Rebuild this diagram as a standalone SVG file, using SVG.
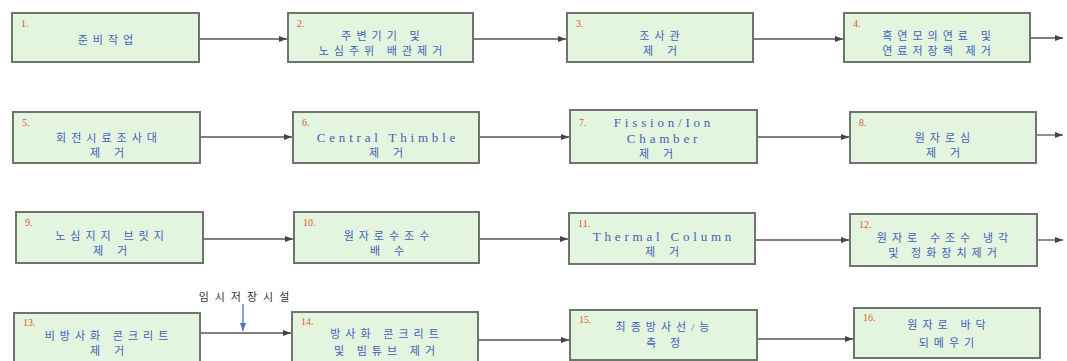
<svg xmlns="http://www.w3.org/2000/svg" width="1067" height="361" viewBox="0 0 1067 361">
<style>
.box{fill:#e3f5df;stroke:#6f746f;stroke-width:2}
.num{font-family:"Liberation Serif","Noto Sans CJK KR",serif;font-size:10px;fill:#e4572c}
.t{font-family:"Liberation Serif","Noto Sans CJK KR",serif;font-size:11px;fill:#3f62b8;text-anchor:middle;letter-spacing:5px}
.e{font-family:"Liberation Serif",serif;font-size:13px;fill:#3f62b8;text-anchor:middle;letter-spacing:3.8px}
.w{letter-spacing:14px}
.c{stroke:#555;stroke-width:1.3;fill:none;marker-end:url(#ah)}
.lbl{font-family:"Liberation Serif","Noto Sans CJK KR",serif;font-size:11px;fill:#333;text-anchor:middle;letter-spacing:6px}
</style>
<defs>
<marker id="ah" viewBox="0 0 8 6" refX="8" refY="3" markerWidth="8" markerHeight="6" markerUnits="userSpaceOnUse" orient="auto">
<path d="M0,0L8,3L0,6z" fill="#444"/>
</marker>
<marker id="ahb" viewBox="0 0 8 6" refX="8" refY="3" markerWidth="8" markerHeight="6" markerUnits="userSpaceOnUse" orient="auto">
<path d="M0,0L8,3L0,6z" fill="#4a6fd0"/>
</marker>
</defs>
<rect width="1067" height="361" fill="#ffffff"/>
<g id="connectors">
<path class="c" d="M199,39H287"/>
<path class="c" d="M473,39H566"/>
<path class="c" d="M753,39H843"/>
<path class="c" d="M1030,38H1063"/>
<path class="c" d="M200,137H292"/>
<path class="c" d="M479,137H569"/>
<path class="c" d="M757,137H849"/>
<path class="c" d="M1036,135H1063"/>
<path class="c" d="M203,239H293"/>
<path class="c" d="M479,239H568"/>
<path class="c" d="M755,240H849"/>
<path class="c" d="M1037,240H1063"/>
<path class="c" d="M200,333H291"/>
<path class="c" d="M478,340H569"/>
<path class="c" d="M757,339H853"/>
<path d="M243,304V331" stroke="#4a6fd0" stroke-width="1.3" fill="none" marker-end="url(#ahb)"/>
<text class="lbl" x="247" y="301">임시저장시설</text>
</g>
<g id="n1"><rect class="box" x="12" y="13" width="187" height="49"/><text class="num" x="21" y="27">1.</text><text class="t" x="108" y="44">준비작업</text></g>
<g id="n2"><rect class="box" x="288" y="13" width="185" height="49"/><text class="num" x="297" y="27">2.</text><text class="t" x="383" y="40">주변기기 및</text><text class="t" x="383" y="55">노심주위 배관제거</text></g>
<g id="n3"><rect class="box" x="567" y="13" width="186" height="49"/><text class="num" x="576" y="27">3.</text><text class="t" x="662" y="40">조사관</text><text class="t w" x="667" y="55">제거</text></g>
<g id="n4"><rect class="box" x="844" y="13" width="186" height="49"/><text class="num" x="853" y="27">4.</text><text class="t" x="939" y="40">흑연모의연료 및</text><text class="t" x="939" y="55">연료저장랙 제거</text></g>
<g id="n5"><rect class="box" x="13" y="112" width="187" height="51"/><text class="num" x="22" y="126">5.</text><text class="t" x="109" y="142">회전시료조사대</text><text class="t w" x="114" y="157">제거</text></g>
<g id="n6"><rect class="box" x="293" y="112" width="186" height="51"/><text class="num" x="302" y="126">6.</text><text class="e" x="388" y="142">Central Thimble</text><text class="t w" x="393" y="157">제거</text></g>
<g id="n7"><rect class="box" x="570" y="110" width="187" height="53"/><text class="num" x="579" y="126">7.</text><text class="e" x="664" y="127">Fission/Ion</text><text class="e" x="664" y="143">Chamber</text><text class="t w" x="663" y="158">제거</text></g>
<g id="n8"><rect class="box" x="850" y="112" width="186" height="51"/><text class="num" x="859" y="126">8.</text><text class="t" x="945" y="142">원자로심</text><text class="t w" x="950" y="157">제거</text></g>
<g id="n9"><rect class="box" x="16" y="212" width="187" height="51"/><text class="num" x="25" y="226">9.</text><text class="t" x="112" y="240">노심지지 브릿지</text><text class="t w" x="117" y="255">제거</text></g>
<g id="n10"><rect class="box" x="294" y="212" width="185" height="51"/><text class="num" x="303" y="226">10.</text><text class="t" x="389" y="240">원자로수조수</text><text class="t w" x="394" y="255">배수</text></g>
<g id="n11"><rect class="box" x="569" y="213" width="186" height="51"/><text class="num" x="578" y="227">11.</text><text class="e" x="664" y="241">Thermal Column</text><text class="t w" x="669" y="256">제거</text></g>
<g id="n12"><rect class="box" x="850" y="214" width="187" height="52"/><text class="num" x="859" y="228">12.</text><text class="t" x="945" y="242">원자로 수조수 냉각</text><text class="t" x="945" y="257">및 정화장치제거</text></g>
<g id="n13"><rect class="box" x="14" y="313" width="186" height="52"/><text class="num" x="23" y="326">13.</text><text class="t" x="109" y="340">비방사화 콘크리트</text><text class="t w" x="114" y="355">제거</text></g>
<g id="n14"><rect class="box" x="292" y="312" width="186" height="52"/><text class="num" x="301" y="325">14.</text><text class="t" x="387" y="338">방사화 콘크리트</text><text class="t" x="387" y="355">및 빔튜브 제거</text></g>
<g id="n15"><rect class="box" x="570" y="310" width="187" height="50"/><text class="num" x="579" y="323">15.</text><text class="t" x="665" y="331">최종방사선/능</text><text class="t w" x="670" y="347">측정</text></g>
<g id="n16"><rect class="box" x="854" y="308" width="186" height="50"/><text class="num" x="863" y="321">16.</text><text class="t" x="949" y="329">원자로 바닥</text><text class="t" x="949" y="347">되메우기</text></g>
</svg>
